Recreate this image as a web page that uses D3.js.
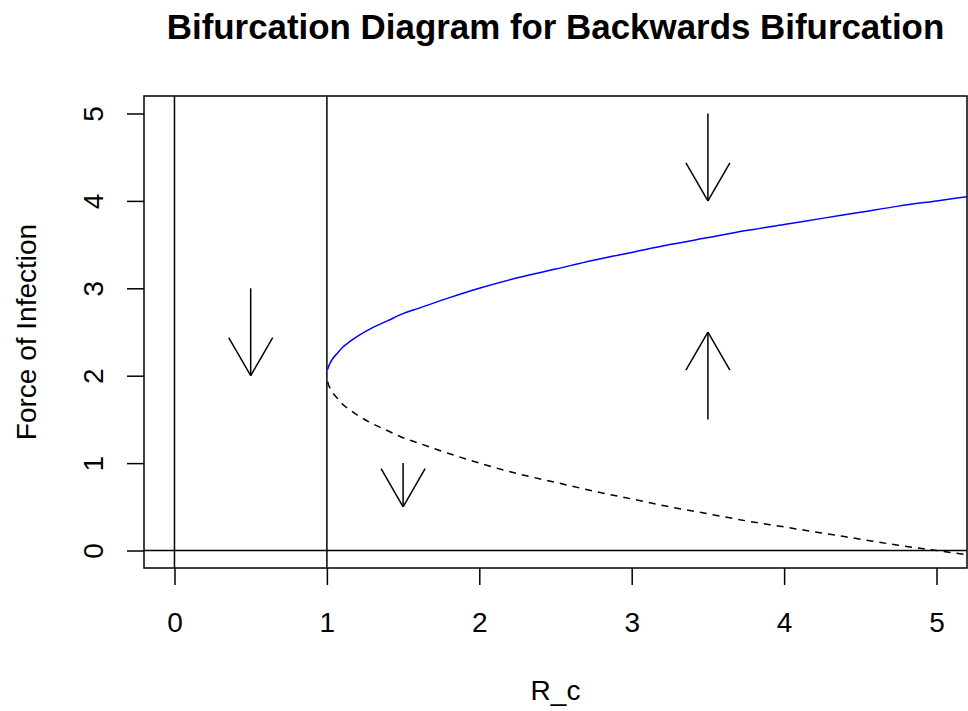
<!DOCTYPE html>
<html>
<head>
<meta charset="utf-8">
<script src="https://cdn.jsdelivr.net/npm/d3@7"></script>
<style>
  html, body { margin: 0; padding: 0; background: #fff; }
  svg { display: block; font-family: "Liberation Sans", Arial, sans-serif; }
</style>
</head>
<body>
<svg id="chart" width="968" height="711"></svg>
<script>
// Equilibrium branches of the force of infection against R_c
const rc = [1.005, 1.01, 1.02, 1.04, 1.07, 1.1, 1.15, 1.2, 1.3, 1.4, 1.5, 1.6, 1.8,
            2.0, 2.25, 2.5, 2.75, 3.0, 3.25, 3.5, 3.75, 4.0, 4.25, 4.5, 4.75, 5.0, 5.25];
const stableBranch = [2.07, 2.10, 2.14, 2.20, 2.26, 2.32, 2.39, 2.45, 2.55, 2.63, 2.71, 2.77, 2.89,
                      3.00, 3.12, 3.22, 3.32, 3.41, 3.50, 3.58, 3.66, 3.73, 3.80, 3.87, 3.94, 4.00, 4.06];
const unstableBranch = [1.93, 1.90, 1.86, 1.80, 1.74, 1.68, 1.61, 1.55, 1.45, 1.37, 1.29, 1.23, 1.11,
                        1.00, 0.88, 0.78, 0.68, 0.59, 0.50, 0.42, 0.34, 0.27, 0.20, 0.13, 0.06, 0.00, -0.06];

// Direction-of-flow arrows: [R_c, from, to]
const flowX = [0.5, 1.5, 3.5, 3.5];
const flowFrom = [3, 1, 5, 1.5];
const flowTo = [2, 0.5, 4, 2.5];

// Reference lines
const vLines = [0, 1];
const hLines = [0];

const xTicks = [0, 1, 2, 3, 4, 5];
const yTicks = [0, 1, 2, 3, 4, 5];

const svg = d3.select("#chart");
const plot = { left: 144, right: 967, top: 96, bottom: 568 };

const x = d3.scaleLinear().domain([-0.2, 5.2]).range([plot.left, plot.right]);
const y = d3.scaleLinear().domain([-0.2, 5.2]).range([plot.bottom, plot.top]);

svg.append("defs").append("clipPath").attr("id", "plotClip")
  .append("rect")
  .attr("x", plot.left).attr("y", plot.top)
  .attr("width", plot.right - plot.left).attr("height", plot.bottom - plot.top);

const inner = svg.append("g").attr("clip-path", "url(#plotClip)");

// reference lines
inner.selectAll(".vline").data(vLines).enter().append("line")
  .attr("x1", d => x(d)).attr("x2", d => x(d))
  .attr("y1", plot.top).attr("y2", plot.bottom)
  .attr("stroke", "#000").attr("stroke-width", 1.5);
inner.selectAll(".hline").data(hLines).enter().append("line")
  .attr("x1", plot.left).attr("x2", plot.right)
  .attr("y1", d => y(d)).attr("y2", d => y(d))
  .attr("stroke", "#000").attr("stroke-width", 1.5);

// branches
const line = d3.line().x(d => x(d[0])).y(d => y(d[1])).curve(d3.curveMonotoneX);
inner.append("path")
  .datum(rc.map((r, i) => [r, stableBranch[i]]))
  .attr("d", line).attr("fill", "none")
  .attr("stroke", "#0000ff").attr("stroke-width", 1.5);
inner.append("path")
  .datum(rc.map((r, i) => [r, unstableBranch[i]]))
  .attr("d", line).attr("fill", "none")
  .attr("stroke", "#000").attr("stroke-width", 1.5)
  .attr("stroke-dasharray", "7,6");

// arrows with open heads (30 degrees, fixed head length)
const headLen = 44, headAngle = Math.PI / 6;
flowX.forEach((fx, i) => {
  const x0 = x(fx), y0 = y(flowFrom[i]), x1 = x(fx), y1 = y(flowTo[i]);
  const g = inner.append("g").attr("stroke", "#000").attr("stroke-width", 1.5).attr("fill", "none");
  g.append("line").attr("x1", x0).attr("y1", y0).attr("x2", x1).attr("y2", y1);
  const ang = Math.atan2(y0 - y1, x0 - x1);
  [ang - headAngle, ang + headAngle].forEach(a => {
    g.append("line")
      .attr("x1", x1).attr("y1", y1)
      .attr("x2", x1 + headLen * Math.cos(a))
      .attr("y2", y1 + headLen * Math.sin(a));
  });
});

// plot frame
svg.append("rect")
  .attr("x", plot.left).attr("y", plot.top)
  .attr("width", plot.right - plot.left).attr("height", plot.bottom - plot.top)
  .attr("fill", "none").attr("stroke", "#000").attr("stroke-width", 1.5);

// axes
const tickLen = 17;
const xAxis = svg.append("g")
  .attr("transform", `translate(0,${plot.bottom})`)
  .call(d3.axisBottom(x).tickValues(xTicks).tickSize(tickLen).tickSizeOuter(0).tickFormat(d3.format("d")));
xAxis.select(".domain").remove();
xAxis.selectAll(".tick line").attr("stroke", "#000").attr("stroke-width", 1.5);
xAxis.selectAll(".tick text")
  .attr("y", 64).attr("dy", null)
  .attr("font-size", 28).attr("font-family", "Liberation Sans, Arial, sans-serif")
  .attr("fill", "#000");

const yAxis = svg.append("g")
  .attr("transform", `translate(${plot.left},0)`)
  .call(d3.axisLeft(y).tickValues(yTicks).tickSize(tickLen).tickSizeOuter(0).tickFormat(d3.format("d")));
yAxis.select(".domain").remove();
yAxis.selectAll(".tick line").attr("stroke", "#000").attr("stroke-width", 1.5);
yAxis.selectAll(".tick text")
  .attr("x", null).attr("dy", null)
  .attr("text-anchor", "middle")
  .attr("transform", `translate(${103 - plot.left},0) rotate(-90)`)
  .attr("font-size", 28).attr("font-family", "Liberation Sans, Arial, sans-serif")
  .attr("fill", "#000");

// titles
svg.append("text")
  .attr("x", (plot.left + plot.right) / 2).attr("y", 39)
  .attr("text-anchor", "middle")
  .attr("font-size", 34.9).attr("font-weight", "bold")
  .text("Bifurcation Diagram for Backwards Bifurcation");

svg.append("text")
  .attr("x", (plot.left + plot.right) / 2).attr("y", 700)
  .attr("text-anchor", "middle")
  .attr("font-size", 28)
  .text("R_c");

svg.append("text")
  .attr("transform", `translate(36,${(plot.top + plot.bottom) / 2}) rotate(-90)`)
  .attr("text-anchor", "middle")
  .attr("font-size", 28)
  .text("Force of Infection");
</script>
</body>
</html>
